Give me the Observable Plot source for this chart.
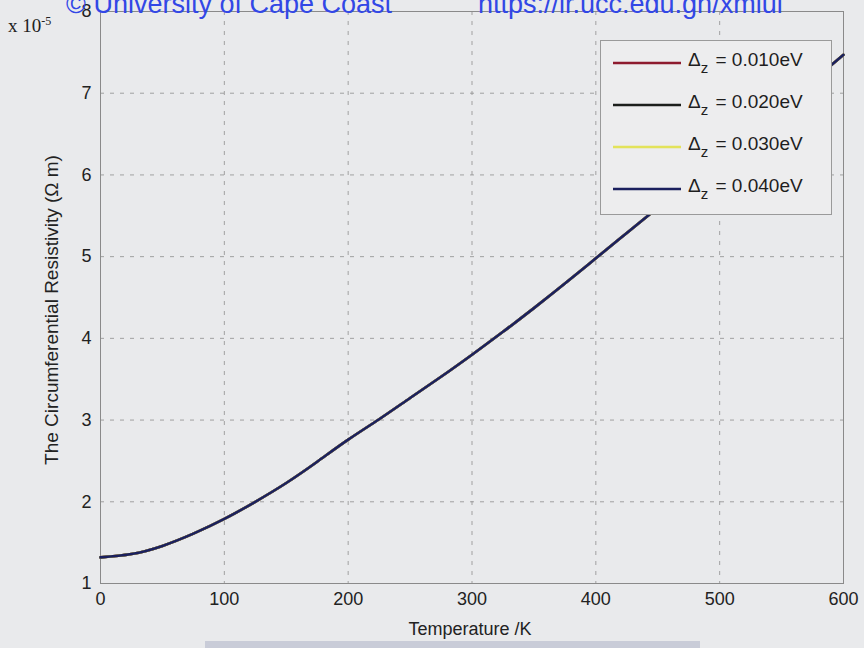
<!DOCTYPE html>
<html>
<head>
<meta charset="utf-8">
<script src="https://cdn.jsdelivr.net/npm/d3@7"></script>
<script src="https://cdn.jsdelivr.net/npm/@observablehq/plot@0.6"></script>
<style>
  html, body { margin: 0; padding: 0; background: #e9eaec; }
  #wrap { position: relative; width: 864px; height: 648px; overflow: hidden; background: #e9eaec; font-family: "Liberation Sans", Arial, sans-serif; }
  #chart { position: absolute; left: 0; top: 0; }
  .abs { position: absolute; white-space: nowrap; }
  #legend { position: absolute; left: 600px; top: 40px; width: 232px; height: 175px; border: 1px solid #9a9a9a; background: #ededee; box-sizing: border-box; }
  .lrow { position: absolute; left: 12px; width: 218px; height: 30px; }
  .lrow svg { position: absolute; left: 0; top: 0; }
  .lrow span { position: absolute; left: 75px; top: 0px; font-size: 19px; color: #1e1e1e; white-space: nowrap; }
  .lrow sub { font-size: 15px; vertical-align: -7px; line-height: 0; margin-right: 2px; }
</style>
</head>
<body>
<div id="wrap">
  <div id="chart"></div>
  <div class="abs" style="left:66px; top:-11px; font-family:'Liberation Sans',Arial,sans-serif; font-size:27px; color:#3247e6;">© University of Cape Coast</div>
  <div class="abs" style="left:478px; top:-11px; font-family:'Liberation Sans',Arial,sans-serif; font-size:27px; color:#3247e6;">https://ir.ucc.edu.gh/xmlui</div>
  <div class="abs" style="left:8px; top:14px; font-family:'Liberation Serif','Times New Roman',serif; font-size:19px; color:#222;">x 10<sup style="font-size:12px;">-5</sup></div>
  <div class="abs" style="left:52px; top:310px; transform:translate(-50%,-50%) rotate(-90deg); font-size:19px; color:#222;">The Circumferential Resistivity (Ω m)</div>
  <div id="legend"></div>
  <div class="abs" style="left:205px; top:641px; width:495px; height:7px; background:#c9ccd8;"></div>
  <div class="abs" style="left:470px; top:629px; transform:translate(-50%,-50%); font-size:18px; color:#222;">Temperature /K</div>
</div>
<script>
// Temperature (K)
const temperature = [0,25,50,75,100,125,150,175,200,225,250,275,300,325,350,375,400,425,450,475,500,525,550,575,600];
// Circumferential resistivity (x 1e-5 Ω m); the four curves overlap in the figure
const rho010 = [1.32,1.36,1.46,1.61,1.79,2.00,2.23,2.49,2.76,3.01,3.27,3.53,3.80,4.08,4.37,4.67,4.98,5.29,5.60,5.91,6.22,6.53,6.84,7.15,7.47];
const rho020 = [1.32,1.36,1.46,1.61,1.79,2.00,2.23,2.49,2.76,3.01,3.27,3.53,3.80,4.08,4.37,4.67,4.98,5.29,5.60,5.91,6.22,6.53,6.84,7.15,7.47];
const rho030 = [1.32,1.36,1.46,1.61,1.79,2.00,2.23,2.49,2.76,3.01,3.27,3.53,3.80,4.08,4.37,4.67,4.98,5.29,5.60,5.91,6.22,6.53,6.84,7.15,7.47];
const rho040 = [1.32,1.36,1.46,1.61,1.79,2.00,2.23,2.49,2.76,3.01,3.27,3.53,3.80,4.08,4.37,4.67,4.98,5.29,5.60,5.91,6.22,6.53,6.84,7.15,7.47];

const seriesNames = ["0.010", "0.020", "0.030", "0.040"];
const seriesColors = ["#8e1b2e", "#1c1f1c", "#e3e35a", "#1b205e"];
const seriesValues = [rho010, rho020, rho030, rho040];

const xTicks = [0,100,200,300,400,500,600];
const yTicks = [1,2,3,4,5,6,7,8];

const rows = [];
seriesValues.forEach((vals, si) => {
  vals.forEach((v, i) => rows.push({series: seriesNames[si], T: temperature[i], rho: v}));
});

const chart = Plot.plot({
  width: 864,
  height: 648,
  marginLeft: 100,
  marginRight: 21,
  marginTop: 11,
  marginBottom: 65,
  style: {background: "transparent", fontFamily: "'Liberation Sans', Arial, sans-serif", fontSize: "18px", color: "#222"},
  x: {domain: [0, 600]},
  y: {domain: [1, 8]},
  color: {domain: seriesNames, range: seriesColors},
  marks: [
    Plot.gridX(xTicks, {stroke: "#8f8f8f", strokeOpacity: 0.8, strokeDasharray: "4,6"}),
    Plot.gridY(yTicks, {stroke: "#8f8f8f", strokeOpacity: 0.8, strokeDasharray: "4,6"}),
    Plot.frame({stroke: "#8a8a8a"}),
    Plot.axisX(xTicks, {tickSize: 0, tickPadding: 9, tickFormat: "d", label: null, fontSize: 18}),
    Plot.axisY(yTicks, {tickSize: 0, tickPadding: 9, tickFormat: "d", label: null, fontSize: 18}),
    Plot.line(rows, {x: "T", y: "rho", z: "series", stroke: "series", strokeWidth: 2.6, curve: "natural"})
  ]
});
document.getElementById("chart").appendChild(chart);

// legend
const legend = document.getElementById("legend");
seriesNames.forEach((name, i) => {
  const row = document.createElement("div");
  row.className = "lrow";
  row.style.top = (8 + i * 42) + "px";
  row.innerHTML = `<svg width="70" height="30"><line x1="0" x2="68" y1="14" y2="14" stroke="${seriesColors[i]}" stroke-width="2.6"/></svg><span>Δ<sub>z</sub> = ${name}eV</span>`;
  legend.appendChild(row);
});
</script>
</body>
</html>
